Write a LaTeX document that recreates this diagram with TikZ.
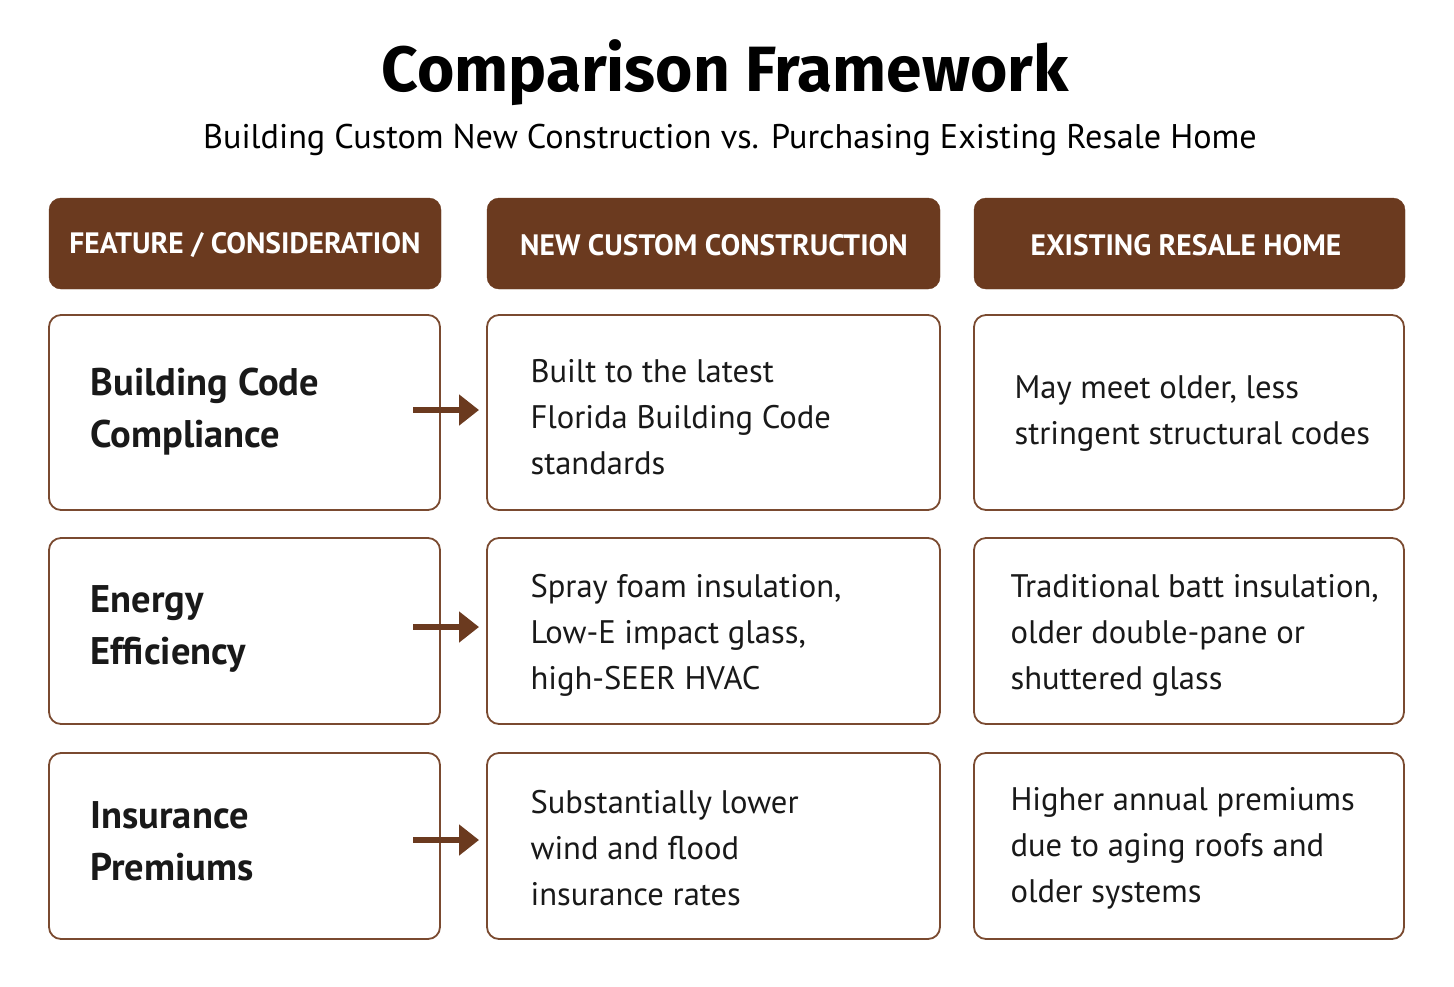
\documentclass[tikz,border=0pt]{standalone}
\usepackage{fontspec}
\setmainfont{PT Sans}
\newfontfamily\titlefont{Fira Sans}
\usetikzlibrary{arrows.meta}
\definecolor{brn}{HTML}{6B3A1F}
\definecolor{brd}{HTML}{7A4A30}
\begin{document}
\begin{tikzpicture}[x=1pt,y=-1pt,
  hdr/.style={fill=brn,draw=brn,rounded corners=12pt},
  htxt/.style={text=white,font=\fontsize{29.5}{32}\selectfont\bfseries},
  cell/.style={draw=brd,line width=1.8pt,rounded corners=12pt,fill=white},
  feat/.style={anchor=west,align=left,font=\fontsize{38.5}{52}\selectfont\bfseries,text=black!90},
  body/.style={anchor=west,align=left,font=\fontsize{32.6}{46}\selectfont,text=black!90},
  arr/.style={draw=brn,line width=6pt,-{Triangle[length=20pt,width=30pt]}}]
\useasboundingbox[fill=white] (0,0) rectangle (1454,986);
\node[font=\titlefont\fontsize{64}{70}\selectfont\bfseries] (title) at (725,73) {Comparison Framework};
\node[font=\fontsize{34.2}{38}\selectfont] (sub) at (730,140) {Building Custom New Construction vs. Purchasing Existing Resale Home};
% headers
\path[hdr] (49,198) rectangle (441,289); \node[htxt] (h1) at (245,245) {FEATURE / CONSIDERATION};
\path[hdr] (487,198) rectangle (940,289); \node[htxt] (h2) at (714,245) {NEW CUSTOM CONSTRUCTION};
\path[hdr] (974,198) rectangle (1405,289); \node[htxt] (h3) at (1186,245) {EXISTING RESALE HOME};
% row 1
\draw[cell] (49,315) rectangle (440,510);
\draw[cell] (487,315) rectangle (940,510);
\draw[cell] (974,315) rectangle (1404,510);
\node[feat] (f1) at (87,412) {Building Code\\Compliance};
\node[body] (n1) at (527,417) {Built to the latest\\Florida Building Code\\standards};
\node[body] (e1) at (1011,414) {May meet older, less\\stringent structural codes};
% row 2
\draw[cell] (49,538) rectangle (440,724);
\draw[cell] (487,538) rectangle (940,724);
\draw[cell] (974,538) rectangle (1404,724);
\node[feat] (f2) at (87,629) {Energy\\Efficiency};
\node[body] (n2) at (527,635) {Spray foam insulation,\\Low-E impact glass,\\high-SEER HVAC};
\node[body] (e2) at (1007,635) {Traditional batt insulation,\\older double-pane or\\shuttered glass};
% row 3
\draw[cell] (49,753) rectangle (440,939);
\draw[cell] (487,753) rectangle (940,939);
\draw[cell] (974,753) rectangle (1404,939);
\node[feat] (f3) at (87,841) {Insurance\\Premiums};
\node[body] (n3) at (527,848) {Substantially lower\\wind and flood\\insurance rates};
\node[body] (e3) at (1007,848) {Higher annual premiums\\due to aging roofs and\\older systems};
% arrows
\coordinate (a1s) at (413,410); \coordinate (a1e) at (479,410);
\coordinate (a2s) at (413,627); \coordinate (a2e) at (479,627);
\coordinate (a3s) at (413,840); \coordinate (a3e) at (479,840);
\draw[arr] (a1s) -- (a1e);
\draw[arr] (a2s) -- (a2e);
\draw[arr] (a3s) -- (a3e);
\end{tikzpicture}
\end{document}
